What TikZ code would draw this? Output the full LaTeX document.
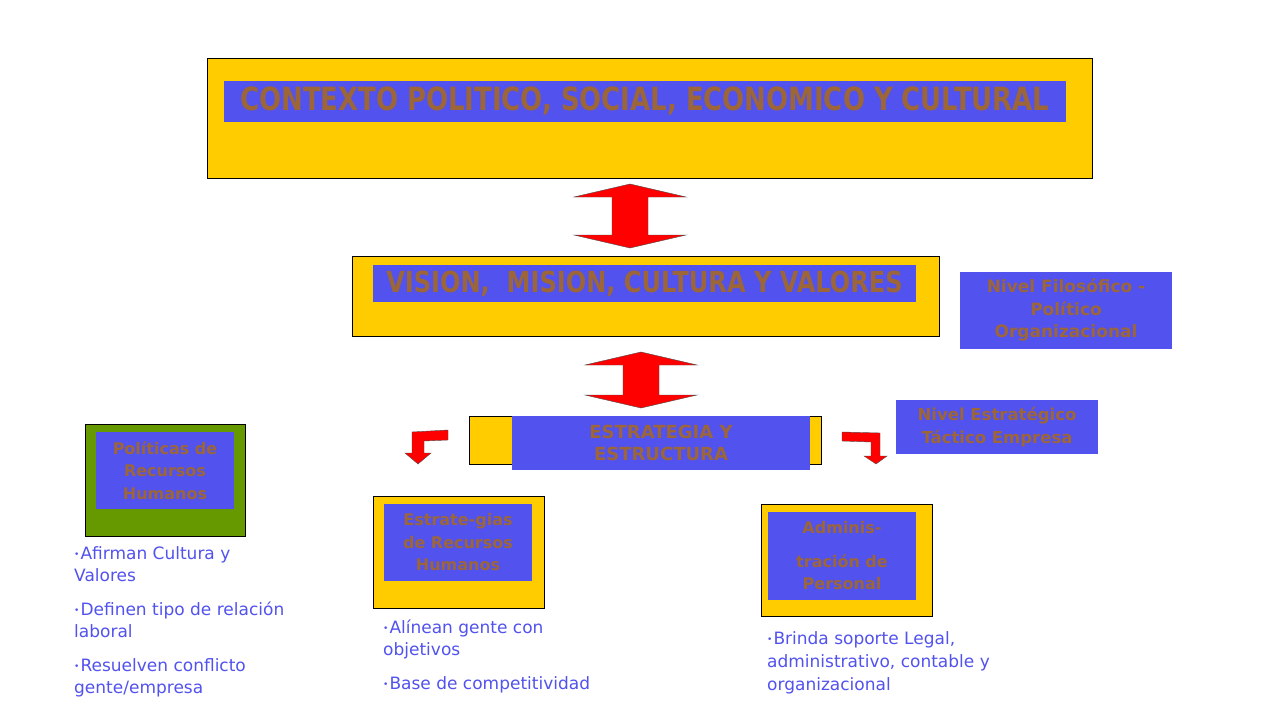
\documentclass[tikz,border=0pt]{standalone}
\usepackage{fontspec}
\setmainfont{DejaVu Sans}
\usepackage{tikz}
\usetikzlibrary{positioning,calc}
\definecolor{amarillo}{HTML}{FFCC00}
\definecolor{azul}{HTML}{5252EE}
\definecolor{cafe}{HTML}{9C6638}
\definecolor{verde}{HTML}{669900}
\newcommand{\pkt}{\raisebox{2pt}{\fontsize{9}{9}\selectfont\textbullet}\hspace{1pt}}
\tikzset{
  marco/.style={draw=black, fill=amarillo, line width=0.8pt, inner sep=0pt},
  titulo/.style={fill=azul, text=cafe, inner sep=0pt, align=center, font=\bfseries\fontsize{16}{22.5}\selectfont},
  flecha/.style={fill=red, draw=black!70, line width=0.4pt},
  punkte/.style={text=azul, align=left, anchor=north west, inner sep=0pt, font=\fontsize{17}{22}\selectfont},
  doble/.pic={\draw[flecha] (0,-#1) -- (56,-#1+13) -- (18,-#1+13) -- (18,#1-13) -- (56,#1-13) -- (0,#1)
      -- (-56,#1-13) -- (-18,#1-13) -- (-18,-#1+13) -- (-56,-#1+13) -- cycle;}
}
\begin{document}
\begin{tikzpicture}[x=1pt,y=-1pt]
\useasboundingbox[fill=white] (0,0) rectangle (1280,720);
%Obere Ebene
\node[marco, minimum width=885, minimum height=120] (contexto) at (649.5,118) {};
\node[titulo, minimum width=842, minimum height=41, font=\bfseries\fontsize{32}{32}\selectfont] (contextoT) at (645,101)
  {\scalebox{0.81}[1]{CONTEXTO POLITICO, SOCIAL, ECONOMICO Y CULTURAL}};
\node[marco, minimum width=587, minimum height=80] (vision) at (645.5,296) {};
\node[titulo, minimum width=543, minimum height=37, font=\bfseries\fontsize{29}{29}\selectfont] (visionT) at (644.5,283.5)
  {\scalebox{0.83}[1]{VISION,~~MISION, CULTURA Y VALORES}};
\node[titulo, minimum width=212, minimum height=77, font=\bfseries\fontsize{17}{22.5}\selectfont] (filosofico) at (1066,310.5) {Nivel Filosófico -\\Político\\Organizacional};
\pic at (630,216) {doble=32};
\pic at (641,380) {doble=28};
%Mittlere Ebene
\node[marco, minimum width=352, minimum height=48] (estrategia) at (645,440) {};
\node[titulo, minimum width=298, minimum height=54, font=\bfseries\fontsize{18}{22}\selectfont] (estrategiaT) at (661,443) {ESTRATEGIA Y\\ESTRUCTURA};
\node[titulo, minimum width=202, minimum height=54, font=\bfseries\fontsize{16.5}{22.5}\selectfont] (estrategico) at (997,427) {Nivel Estratégico\\Táctico Empresa};
\draw[flecha] (448,430) -- (412,432) -- (412,453) -- (405,453) -- (418,464) -- (431,453) -- (424,453) -- (424,441) -- (448,440) -- cycle;
\draw[flecha] (842,432) -- (880,433) -- (880,456) -- (887,456) -- (876,464) -- (864,456) -- (871,456) -- (871,442) -- (842,441) -- cycle;
%Untere Ebene
\node[marco, fill=verde, minimum width=160, minimum height=112] (politicas) at (165,480) {};
\node[titulo, minimum width=138, minimum height=77] (politicasT) at (165,470.5) {Políticas de\\Recursos\\Humanos};
\node[marco, minimum width=171, minimum height=112] (estrategias) at (458.5,552) {};
\node[titulo, minimum width=148, minimum height=77] (estrategiasT) at (458,542.5) {Estrate-gias\\de Recursos\\Humanos};
\node[marco, minimum width=171, minimum height=112] (admin) at (846.5,560) {};
\node[titulo, minimum width=148, minimum height=88] (adminT) at (842,556) {Adminis-\\[11pt]tración de\\Personal};
\node[punkte] (puntosA) at (74,546) {\pkt Afirman Cultura y\\Valores\\[12pt]\pkt Definen tipo de relación\\laboral\\[12pt]\pkt Resuelven conflicto\\gente/empresa};
\node[punkte] (puntosB) at (383,620) {\pkt Alínean gente con\\objetivos\\[12pt]\pkt Base de competitividad};
\node[punkte, font=\fontsize{17}{23}\selectfont] (puntosC) at (767,631) {\pkt Brinda soporte Legal,\\administrativo, contable y\\organizacional};
\end{tikzpicture}
\end{document}
